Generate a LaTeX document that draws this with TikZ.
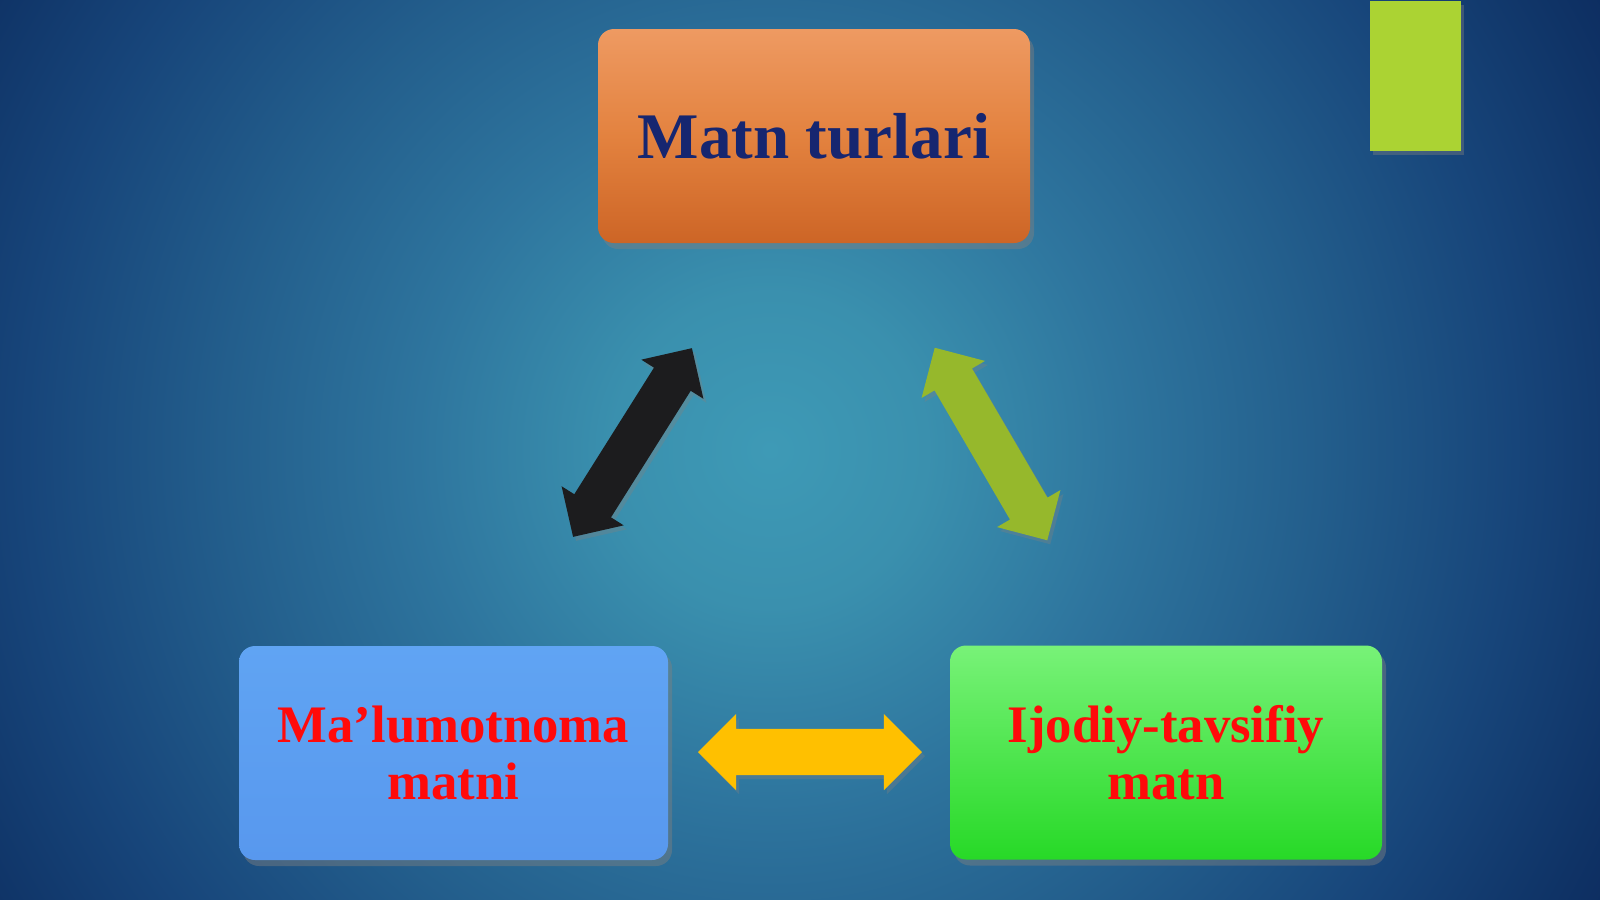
\documentclass[tikz,border=0pt]{standalone}
\usepackage{fontspec}
\setmainfont{Liberation Serif}
\usetikzlibrary{shapes.arrows,shadows}
\definecolor{bg0}{HTML}{3E9AB6}
\definecolor{bg1}{HTML}{3A90AE}
\definecolor{bg2}{HTML}{2E759E}
\definecolor{bg3}{HTML}{235E8C}
\definecolor{bg4}{HTML}{17457A}
\definecolor{bg5}{HTML}{0F3366}
\definecolor{bg6}{HTML}{0C2A5E}
\definecolor{orTop}{HTML}{EE9A62}
\definecolor{orMid}{HTML}{E3823F}
\definecolor{orBot}{HTML}{CD6526}
\definecolor{blTop}{HTML}{60A4F3}
\definecolor{blBot}{HTML}{5898EE}
\definecolor{grTop}{HTML}{78F278}
\definecolor{grBot}{HTML}{27D927}
\definecolor{navytxt}{HTML}{162670}
\definecolor{redtxt}{HTML}{FF0A0A}
\definecolor{arBlack}{HTML}{1C1C1E}
\definecolor{arGreen}{HTML}{96B82C}
\definecolor{arYellow}{HTML}{FFC000}
\definecolor{lime}{HTML}{ABD333}
\pgfdeclareradialshading{bgshade}{\pgfpoint{0bp}{0bp}}{color(0bp)=(bg0); color(4bp)=(bg1); color(9bp)=(bg2); color(14bp)=(bg3); color(19bp)=(bg4); color(23bp)=(bg5); color(25bp)=(bg6); color(50bp)=(bg6)}
\tikzset{
  box/.style={rounded corners=1.6mm, minimum width=43.2mm, minimum height=21.4mm, inner sep=0pt, align=center,
    drop shadow={shadow xshift=0.4mm, shadow yshift=-0.6mm, opacity=0.45}},
  bigtxt/.style={font=\fontsize{18.5pt}{22pt}\selectfont\bfseries, text=navytxt},
  smalltxt/.style={font=\fontsize{15pt}{16.2pt}\selectfont\bfseries, text=redtxt},
  dblarrow/.style={double arrow, inner xsep=0pt, inner ysep=2.1mm, minimum width=7.2mm, double arrow head extend=1.5mm,
    minimum height=22.3mm, drop shadow={shadow xshift=0.3mm, shadow yshift=-0.4mm, opacity=0.35}}
}
\begin{document}
\begin{tikzpicture}[x=0.1mm,y=-0.1mm]
\useasboundingbox (0,0) rectangle (1600,899);
\fill[bg6] (0,0) rectangle (1600,899);
\begin{scope}
  \clip (0,0) rectangle (1600,899);
  \shade[shading=bgshade] (770,450) circle (98mm);
\end{scope}
% decorative bar
\node[fill=lime, minimum width=9.1mm, minimum height=15mm, inner sep=0pt, anchor=north west,
  drop shadow={shadow xshift=0.3mm, shadow yshift=-0.4mm, opacity=0.4}] (bar) at (1369,0) {};
% boxes
\node[box, top color=orTop, bottom color=orBot, middle color=orMid, bigtxt] (top) at (814,136) {Matn turlari};
\node[box, minimum width=42.9mm, top color=blTop, bottom color=blBot, smalltxt] (left) at (453.5,753) {Ma’lumotnoma\\matni};
\node[box, top color=grTop, bottom color=grBot, smalltxt] (right) at (1166,752.5) {Ijodiy-tavsifiy\\matn};
% arrows
\node[dblarrow, fill=arBlack, rotate=57.8] (a1) at (632.5,442.5) {};
\node[dblarrow, fill=arGreen, rotate=-59.7] (a2) at (991,444) {};
\node[dblarrow, fill=arYellow, minimum height=22.4mm, minimum width=7.5mm, inner ysep=2.25mm] (a3) at (810,752) {};
\end{tikzpicture}
\end{document}
